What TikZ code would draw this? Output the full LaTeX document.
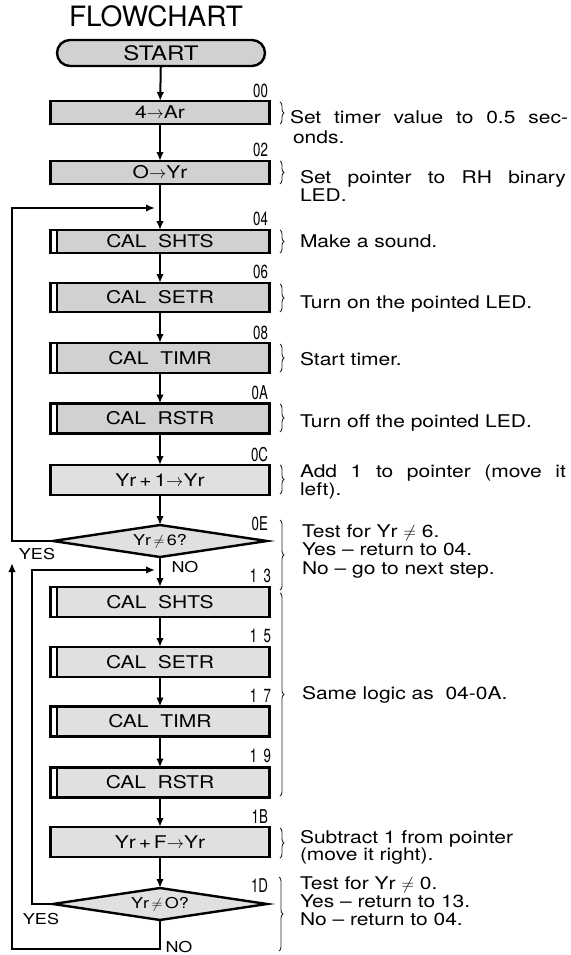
\documentclass[tikz,border=0pt]{standalone}
\usepackage{fontspec}
\setmainfont{TeX Gyre Heros}
\newfontfamily\boxfont[FakeStretch=1.2]{TeX Gyre Heros}
\newfontfamily\numfont[FakeStretch=0.7]{TeX Gyre Heros}
\newfontfamily\notefont[FakeStretch=1.2]{TeX Gyre Heros}
\usetikzlibrary{arrows.meta,decorations.pathreplacing,shapes.geometric}
\begin{document}
\begin{tikzpicture}[x=1pt,y=-1pt,
  every node/.style={inner sep=0pt, outer sep=0pt},
  procbox/.style={draw, line width=2.4pt, fill=black!18, minimum width=219pt,
    font=\boxfont\fontsize{17.5}{20}\selectfont},
  lightbox/.style={procbox, fill=black!12},
  decbox/.style={diamond, aspect=6.7, draw, line width=2.4pt, fill=black!12, minimum width=214pt,
    minimum height=32pt, font=\boxfont\fontsize{15}{18}\selectfont},
  flow/.style={line width=2pt, -{Latex[length=9pt,width=7.5pt]}},
  addr/.style={anchor=base east, font=\numfont\fontsize{19}{20}\selectfont},
  note/.style={anchor=base west, font=\notefont\fontsize{17.5}{20}\selectfont},
  yn/.style={font=\boxfont\fontsize{15}{18}\selectfont},
  bracemark/.style={decorate, decoration={brace, amplitude=4pt}, line width=0.9pt, black!85}
]
\useasboundingbox (0,0) rectangle (570,955);

% title
\node[anchor=base, font=\fontsize{28}{30}\selectfont] (title) at (156,27) {FLOWCHART};

% start
\node[draw, line width=2.4pt, fill=black!18, rounded corners=13pt, minimum width=208pt,
  minimum height=26pt, font=\boxfont\fontsize{20}{22}\selectfont] (start) at (161,53) {START};

% boxes
\node[procbox, minimum height=23pt] (b00) at (160,112.5) {4$\rightarrow$Ar};
\node[procbox, minimum height=23pt] (b02) at (160,172.5) {O$\rightarrow$Yr};
\node[procbox, minimum height=23pt] (b04) at (160,241.5) {CAL\ \ SHTS};
\node[procbox, minimum height=29pt] (b06) at (160,297.5) {CAL\ \ SETR};
\node[procbox, minimum height=30pt] (b08) at (160,358) {CAL\ \ TIMR};
\node[procbox, minimum height=30pt] (b0A) at (160,418.5) {CAL\ \ RSTR};
\node[lightbox, minimum height=30pt] (b0C) at (160,480) {Yr\,+\,1$\rightarrow$Yr};
\node[decbox] (d0E) at (160,541) {Yr\,$\neq$\,6?};
\node[lightbox, minimum height=30pt] (b13) at (160,602) {CAL\ \ SHTS};
\node[lightbox, minimum height=30pt] (b15) at (160,662) {CAL\ \ SETR};
\node[lightbox, minimum height=30pt] (b17) at (160,721.5) {CAL\ \ TIMR};
\node[lightbox, minimum height=30pt] (b19) at (160,782.5) {CAL\ \ RSTR};
\node[lightbox, minimum height=30pt] (b1B) at (160,842) {Yr\,+\,F$\rightarrow$Yr};
\node[decbox] (d1D) at (160,904) {Yr\,$\neq$\,O?};

% double left edge of subroutine boxes
\foreach \n in {b04,b06,b08,b0A,b13,b15,b17,b19}{
  \fill[white] ([xshift=1.2pt,yshift=-1.2pt]\n.north west) rectangle ([xshift=5.5pt,yshift=1.2pt]\n.south west);
  \draw[line width=1.6pt] ([xshift=6.5pt,yshift=-1.2pt]\n.north west) -- ([xshift=6.5pt,yshift=1.2pt]\n.south west);
}

% addresses
\node[addr] (a00) at (268,98) {00};
\node[addr] (a02) at (268,157) {02};
\node[addr] (a04) at (268,225) {04};
\node[addr] (a06) at (268,278) {06};
\node[addr] (a08) at (268,339) {08};
\node[addr] (a0A) at (268,399) {0A};
\node[addr] (a0C) at (268,461) {0C};
\node[addr] (a0E) at (268,530) {0E};
\node[addr] (a13) at (271,582) {1\,\,3};
\node[addr] (a15) at (271,642) {1\,\,5};
\node[addr] (a17) at (271,702) {1\,\,7};
\node[addr] (a19) at (271,762) {1\,\,9};
\node[addr] (a1B) at (268,823) {1B};
\node[addr] (a1D) at (268,892) {1D};

% main flow
\draw[flow] (start) -- (b00);
\draw[flow] (b00) -- (b02);
\draw[flow] (b02) -- (b04);
\draw[flow] (b04) -- (b06);
\draw[flow] (b06) -- (b08);
\draw[flow] (b08) -- (b0A);
\draw[flow] (b0A) -- (b0C);
\draw[flow] (b0C) -- (d0E);
\draw[flow] (d0E) -- (b13);
\draw[flow] (b13) -- (b15);
\draw[flow] (b15) -- (b17);
\draw[flow] (b17) -- (b19);
\draw[flow] (b19) -- (b1B);
\draw[flow] (b1B) -- (d1D);

% loops
\coordinate (ret04) at (155,208);
\coordinate (ret13) at (155,570);
\coordinate (up04) at (12,563);
\draw[flow] (d0E.west) -- ++(-41,0) |- (ret04);
\draw[flow] (d1D.west) -- ++(-21,0) |- (ret13);
\draw[flow] (d1D.south) -- ++(0,29) -| (up04);

% yes / no
\node[yn] (yes1) at (37,554) {YES};
\node[yn] (no1) at (185,567) {NO};
\node[yn] (yes2) at (41,919) {YES};
\node[yn] (no2) at (179,947) {NO};

% braces
\draw[bracemark] (280,102) -- (280,124);
\draw[bracemark] (280,161) -- (280,184);
\draw[bracemark] (280,230) -- (280,253);
\draw[bracemark] (280,284) -- (280,312);
\draw[bracemark] (280,344) -- (280,372);
\draw[bracemark] (280,404) -- (280,432);
\draw[bracemark] (280,465) -- (280,494);
\draw[bracemark] (280,520) -- (280,590);
\draw[bracemark] (280,593) -- (280,796);
\draw[bracemark] (280,828) -- (280,858);
\draw[bracemark] (279,877) -- (279,951);

% notes
\node[note] (n1) at (290,124) {\makebox[278pt][s]{Set timer value to 0.5 sec-}};
\node[note] (n2) at (293,143) {onds.};
\node[note] (n3) at (300,183) {\makebox[266pt][s]{Set pointer to RH binary}};
\node[note] (n4) at (300,201) {LED.};
\node[note] (n5) at (300,247) {Make a sound.};
\node[note] (n6) at (300,308) {Turn on the pointed LED.};
\node[note] (n7) at (300,365) {Start timer.};
\node[note] (n8) at (300,427) {Turn off the pointed LED.};
\node[note] (n9) at (300,477) {\makebox[266pt][s]{Add 1 to pointer (move it}};
\node[note] (n10) at (300,495) {left).};
\node[note] (n11) at (302,537) {Test for Yr $\neq$ 6.};
\node[note] (n12) at (302,555) {Yes – return to 04.};
\node[note] (n13) at (302,574) {No – go to next step.};
\node[note] (n14) at (302,699) {Same logic as\ \ 04-0A.};
\node[note] (n15) at (300,843) {Subtract 1 from pointer};
\node[note] (n16) at (300,860) {(move it right).};
\node[note] (n17) at (300,889) {Test for Yr $\neq$ 0.};
\node[note] (n18) at (300,907) {Yes – return to 13.};
\node[note] (n19) at (300,925) {No – return to 04.};
\end{tikzpicture}
\end{document}
